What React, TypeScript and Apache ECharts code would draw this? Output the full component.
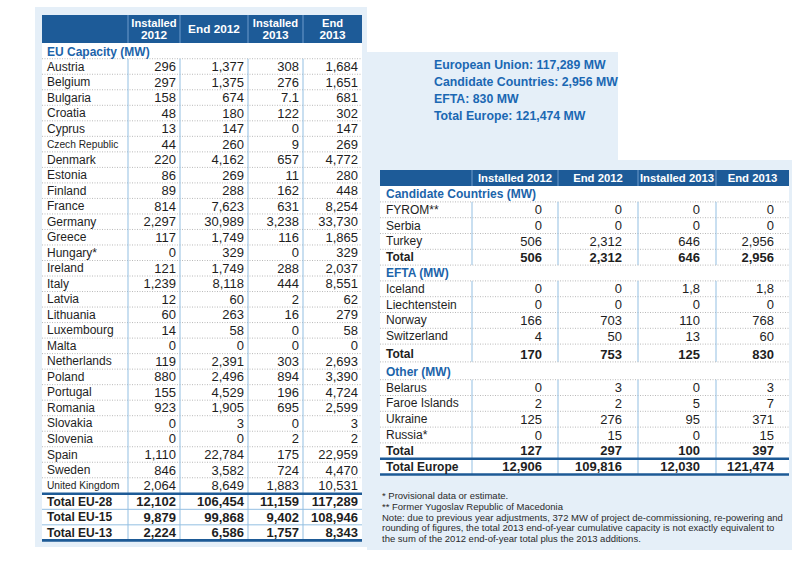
import React, { useEffect, useRef } from "react";
import * as echarts from "echarts";

// ---------- DATA ----------
const colHeaders = ["Installed 2012", "End 2012", "Installed 2013", "End 2013"];
const leftHeaderLines = [["Installed", "2012"], ["End 2012"], ["Installed", "2013"], ["End", "2013"]];

const euSectionTitle = "EU Capacity (MW)";
const euCountries = [
  "Austria", "Belgium", "Bulgaria", "Croatia", "Cyprus", "Czech Republic", "Denmark", "Estonia",
  "Finland", "France", "Germany", "Greece", "Hungary*", "Ireland", "Italy", "Latvia", "Lithuania",
  "Luxembourg", "Malta", "Netherlands", "Poland", "Portugal", "Romania", "Slovakia", "Slovenia",
  "Spain", "Sweden", "United Kingdom",
];
const euInstalled2012 = [296, 297, 158, 48, 13, 44, 220, 86, 89, 814, 2297, 117, 0, 121, 1239, 12, 60, 14, 0, 119, 880, 155, 923, 0, 0, 1110, 846, 2064];
const euEnd2012 = [1377, 1375, 674, 180, 147, 260, 4162, 269, 288, 7623, 30989, 1749, 329, 1749, 8118, 60, 263, 58, 0, 2391, 2496, 4529, 1905, 3, 0, 22784, 3582, 8649];
const euInstalled2013 = [308, 276, 7.1, 122, 0, 9, 657, 11, 162, 631, 3238, 116, 0, 288, 444, 2, 16, 0, 0, 303, 894, 196, 695, 0, 2, 175, 724, 1883];
const euEnd2013 = [1684, 1651, 681, 302, 147, 269, 4772, 280, 448, 8254, 33730, 1865, 329, 2037, 8551, 62, 279, 58, 0, 2693, 3390, 4724, 2599, 3, 2, 22959, 4470, 10531];

const euTotalLabels = ["Total EU-28", "Total EU-15", "Total EU-13"];
const euTotalEU28 = [12102, 106454, 11159, 117289];
const euTotalEU15 = [9879, 99868, 9402, 108946];
const euTotalEU13 = [2224, 6586, 1757, 8343];

const summaryLines = [
  "European Union: 117,289 MW",
  "Candidate Countries: 2,956 MW",
  "EFTA: 830 MW",
  "Total Europe: 121,474 MW",
];

const candTitle = "Candidate Countries (MW)";
const candCountries = ["FYROM**", "Serbia", "Turkey"];
const candInstalled2012 = [0, 0, 506];
const candEnd2012 = [0, 0, 2312];
const candInstalled2013 = [0, 0, 646];
const candEnd2013 = [0, 0, 2956];
const candTotal = [506, 2312, 646, 2956];

const eftaTitle = "EFTA (MW)";
const eftaCountries = ["Iceland", "Liechtenstein", "Norway", "Switzerland"];
const eftaInstalled2012 = [0, 0, 166, 4];
const eftaEnd2012 = [0, 0, 703, 50];
const eftaInstalled2013 = [1.8, 0, 110, 13];
const eftaEnd2013 = [1.8, 0, 768, 60];
const eftaTotal = [170, 753, 125, 830];

const otherTitle = "Other (MW)";
const otherCountries = ["Belarus", "Faroe Islands", "Ukraine", "Russia*"];
const otherInstalled2012 = [0, 2, 125, 0];
const otherEnd2012 = [3, 2, 276, 15];
const otherInstalled2013 = [0, 5, 95, 0];
const otherEnd2013 = [3, 7, 371, 15];
const otherTotal = [127, 297, 100, 397];

const totalEuropeLabel = "Total Europe";
const totalEurope = [12906, 109816, 12030, 121474];

const footnotes = [
  "* Provisional data or estimate.",
  "** Former Yugoslav Republic of Macedonia",
  "Note: due to previous year adjustments, 372 MW of project de-commissioning, re-powering and",
  "rounding of figures, the total 2013 end-of-year cumulative capacity is not exactly equivalent to",
  "the sum of the 2012 end-of-year total plus the 2013 additions.",
];

// ---------- HELPERS ----------
const fmt = (v: number, dec = ".") => {
  if (Number.isInteger(v)) return String(v).replace(/\B(?=(\d{3})+(?!\d))/g, ",");
  return String(v).replace(".", dec);
};

const FONT = "'Liberation Sans', Arial, sans-serif";
const HEADER_BG = "#1d5b98";
const TITLE_BLUE = "#1c64aa";
const THICK = "#1d5a96";
const COLLINE = "#93bfe2";
const DOT = "#b9b9b9";
const TEXT = "#1e1e1e";
const PANEL = "#e5eff8";
const NUM = 13;

function txt(x: number, y: number, s: string, opts: any = {}) {
  const size = opts.size ?? 12;
  const weight = opts.bold ? "bold" : "normal";
  return {
    type: "text",
    silent: true,
    z: 10,
    style: {
      x,
      y,
      text: s,
      fill: opts.fill ?? TEXT,
      font: `${weight} ${size}px ${FONT}`,
      textAlign: opts.align ?? "left",
      align: opts.align ?? "left",
      textVerticalAlign: "middle",
      verticalAlign: "middle",
    },
  };
}
function ln(x1: number, y1: number, x2: number, y2: number, stroke: string, w = 1, dash?: number[]) {
  return {
    type: "line",
    silent: true,
    z: 5,
    shape: { x1, y1, x2, y2 },
    style: { stroke, lineWidth: w, lineDash: dash },
  };
}
function rect(x: number, y: number, w: number, h: number, fill: string, z = 1) {
  return { type: "rect", silent: true, z, shape: { x, y, width: w, height: h }, style: { fill } };
}

function buildGraphics() {
  const g: any[] = [];

  // background panels
  g.push(rect(35, 7, 332, 540, PANEL, 0));
  g.push({
    type: "polygon",
    silent: true,
    z: 0,
    shape: { points: [[367, 52], [618, 52], [618, 160], [792, 160], [792, 550], [367, 550]] },
    style: { fill: PANEL },
  });

  // ---------- LEFT TABLE ----------
  const L = [42, 128, 180, 248, 303, 362];
  const LR = [176, 244, 299, 358];
  const hTop = 15, hBot = 43;
  const rowH = 15.52;
  const firstY = 66.5;
  const nameX = 47;

  g.push(rect(L[0], hBot, L[5] - L[0], 539 - hBot, "#ffffff", 1));
  g.push(rect(L[0], hTop, L[5] - L[0], hBot - hTop, HEADER_BG, 2));
  for (let c = 1; c < 5; c++) g.push(ln(L[c], hTop, L[c], hBot, "#6f9ccc", 1));
  leftHeaderLines.forEach((lines, c) => {
    const cx = (L[c + 1] + L[c + 2]) / 2;
    if (lines.length === 1) g.push(txt(cx, 29, lines[0], { bold: true, fill: "#ffffff", align: "center", size: 11.8 }));
    else {
      g.push(txt(cx, 22.5, lines[0], { bold: true, fill: "#ffffff", align: "center", size: 11.2 }));
      g.push(txt(cx, 35, lines[1], { bold: true, fill: "#ffffff", align: "center", size: 11.8 }));
    }
  });
  g.push(txt(nameX, 51.5, euSectionTitle, { bold: true, fill: TITLE_BLUE }));
  const euTop = firstY - rowH / 2;
  g.push(ln(L[0], euTop, L[5], euTop, DOT, 1, [1, 1.5]));

  const euCols = [euInstalled2012, euEnd2012, euInstalled2013, euEnd2013];
  euCountries.forEach((name, i) => {
    const y = firstY + i * rowH;
    const condensed = name.length > 12;
    g.push(txt(nameX, y, name, { size: condensed ? 10.2 : 12 }));
    euCols.forEach((col, c) => g.push(txt(LR[c], y, fmt(col[i]), { align: "right", size: NUM })));
    if (i < euCountries.length - 1) g.push(ln(L[0], y + rowH / 2, L[5], y + rowH / 2, DOT, 1, [1, 1.5]));
  });
  const totY0 = firstY + euCountries.length * rowH + 0.5;
  const euTotals = [euTotalEU28, euTotalEU15, euTotalEU13];
  euTotalLabels.forEach((lab, k) => {
    const y = totY0 + k * rowH;
    g.push(txt(nameX, y, lab, { bold: true }));
    euTotals[k].forEach((v, c) => g.push(txt(LR[c], y, fmt(v), { align: "right", bold: true, size: NUM })));
    if (k < euTotalLabels.length - 1) g.push(ln(L[0], y + rowH / 2, L[5], y + rowH / 2, COLLINE, 1));
  });
  const thickTop = totY0 - rowH / 2;
  const thickBot = totY0 + 2 * rowH + rowH / 2;
  for (let c = 1; c < 5; c++) g.push(ln(L[c], euTop, L[c], thickBot, COLLINE, 1));
  g.push(ln(L[0], thickTop, L[5], thickTop, THICK, 2.6));
  g.push(ln(L[0], thickBot, L[5], thickBot, THICK, 2.6));

  // ---------- SUMMARY ----------
  summaryLines.forEach((s, i) => g.push(txt(434, 64.5 + i * 17.3, s, { bold: true, fill: "#1b68b3", size: 12.3 })));

  // ---------- RIGHT TABLE ----------
  const R = [380, 472, 558, 638, 716, 789];
  const RR = [542, 622, 700, 774];
  const rTop = 170, rBot = 186;
  const rh = 15.8;
  const rNameX = 386;

  g.push(rect(R[0], rBot, R[5] - R[0], 475 - rBot, "#ffffff", 1));
  g.push(rect(R[0], rTop, R[5] - R[0], rBot - rTop, HEADER_BG, 2));
  for (let c = 1; c < 5; c++) g.push(ln(R[c], rTop, R[c], rBot, "#6f9ccc", 1));
  colHeaders.forEach((h, c) =>
    g.push(txt((R[c + 1] + R[c + 2]) / 2, 178, h, { bold: true, fill: "#ffffff", align: "center", size: 11.3 }))
  );

  let y = 194;
  const sections = [
    { title: candTitle, names: candCountries, cols: [candInstalled2012, candEnd2012, candInstalled2013, candEnd2013], total: candTotal, dec: ".", gapTotal: 0 },
    { title: eftaTitle, names: eftaCountries, cols: [eftaInstalled2012, eftaEnd2012, eftaInstalled2013, eftaEnd2013], total: eftaTotal, dec: ",", gapTotal: 2 },
    { title: otherTitle, names: otherCountries, cols: [otherInstalled2012, otherEnd2012, otherInstalled2013, otherEnd2013], total: otherTotal, dec: ".", gapTotal: 0 },
  ];
  sections.forEach((s, si) => {
    if (si === 2) y += 2;
    g.push(txt(rNameX, y, s.title, { bold: true, fill: TITLE_BLUE }));
    const secTop = y + rh / 2;
    g.push(ln(R[0], secTop, R[5], secTop, DOT, 1, [1, 1.5]));
    y += rh;
    s.names.forEach((name, i) => {
      g.push(txt(rNameX, y, name));
      s.cols.forEach((col, c) => g.push(txt(RR[c], y, fmt(col[i], s.dec), { align: "right", size: NUM })));
      g.push(ln(R[0], y + rh / 2, R[5], y + rh / 2, DOT, 1, [1, 1.5]));
      y += rh;
    });
    y += s.gapTotal;
    g.push(txt(rNameX, y, "Total", { bold: true }));
    s.total.forEach((v, c) => g.push(txt(RR[c], y, fmt(v), { align: "right", bold: true, size: NUM })));
    const secBot = y + rh / 2;
    for (let c = 1; c < 5; c++) g.push(ln(R[c], secTop, R[c], secBot, COLLINE, 1));
    if (si < 2) g.push(ln(R[0], secBot, R[5], secBot, DOT, 1, [1, 1.5]));
    y += rh;
  });
  // Total Europe
  const teTop = y - rh / 2, teBot = y + rh / 2;
  g.push(txt(rNameX, y, totalEuropeLabel, { bold: true }));
  totalEurope.forEach((v, c) => g.push(txt(RR[c], y, fmt(v), { align: "right", bold: true, size: NUM })));
  for (let c = 1; c < 5; c++) g.push(ln(R[c], teTop, R[c], teBot, COLLINE, 1));
  g.push(ln(R[0], teTop, R[5], teTop, THICK, 2.6));
  g.push(ln(R[0], teBot, R[5], teBot, THICK, 2.6));

  // ---------- FOOTNOTES ----------
  const fy = [495, 506, 517, 527.5, 538];
  footnotes.forEach((f, i) => g.push(txt(382, fy[i], f, { size: 9.5, fill: "#2a2a2a" })));

  return g;
}

export default function App() {
  const ref = useRef<HTMLDivElement>(null);
  useEffect(() => {
    document.body.style.margin = "0";
    if (!ref.current) return;
    const chart = echarts.init(ref.current, undefined, { renderer: "svg" });
    chart.setOption({
      animation: false,
      backgroundColor: "#ffffff",
      graphic: { elements: buildGraphics() },
    });
    return () => chart.dispose();
  }, []);
  return <div ref={ref} style={{ width: 800, height: 581 }} />;
}
